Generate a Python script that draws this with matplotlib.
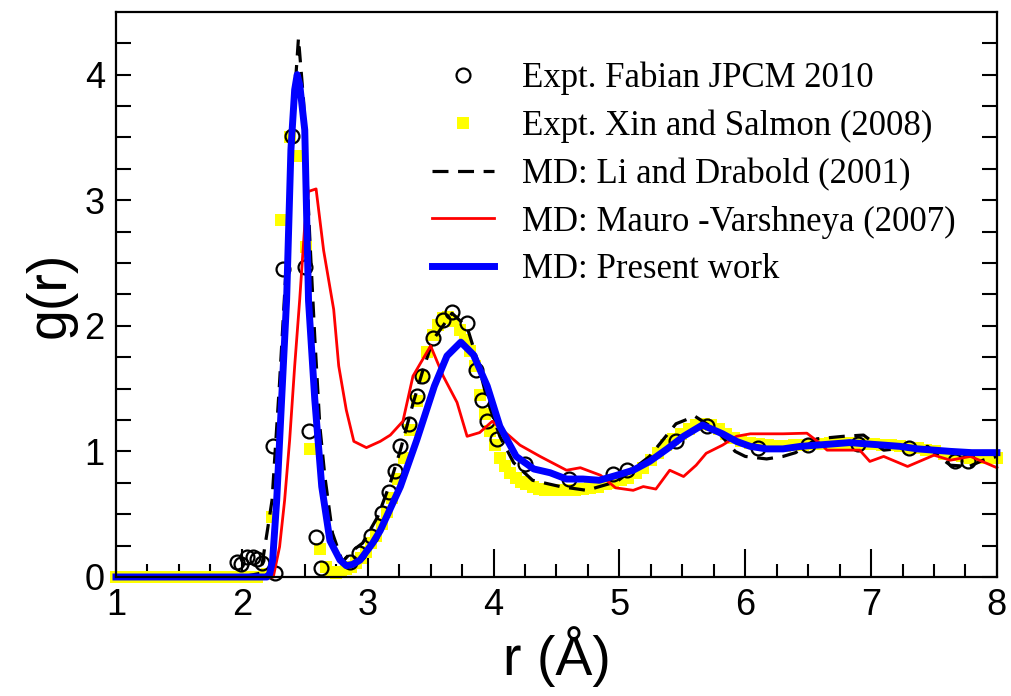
import matplotlib
matplotlib.use("Agg")
import matplotlib.pyplot as plt

# MD: Present work
blue_r = [1.00, 2.00, 2.20, 2.22, 2.245, 2.277, 2.316, 2.356, 2.39, 2.42, 2.44, 2.46, 2.50, 2.53,
          2.58, 2.635, 2.70, 2.78, 2.83, 2.88, 2.94, 3.04, 3.10, 3.26, 3.39, 3.53, 3.63, 3.74,
          3.84, 3.95, 4.05, 4.18, 4.32, 4.45, 4.58, 4.71, 4.84, 4.98, 5.11, 5.24, 5.38, 5.51,
          5.66, 5.82, 5.93, 6.04, 6.17, 6.30, 6.44, 6.57, 6.70, 6.83, 6.96, 7.10, 7.23, 7.37,
          7.50, 7.63, 7.80, 8.00]
blue_g = [0.0, 0.0, 0.0, 0.02, 0.135, 0.61, 1.41, 2.21, 3.40, 3.88, 4.00, 3.92, 3.56, 2.20,
          1.41, 0.72, 0.29, 0.135, 0.09, 0.10, 0.135, 0.27, 0.37, 0.72, 1.09, 1.52, 1.76, 1.87,
          1.77, 1.52, 1.20, 0.96, 0.86, 0.83, 0.78, 0.78, 0.77, 0.81, 0.85, 0.92, 1.02, 1.12,
          1.21, 1.14, 1.08, 1.04, 1.02, 1.02, 1.04, 1.05, 1.06, 1.07, 1.06, 1.05, 1.04, 1.02,
          1.01, 1.00, 0.99, 0.99]

# MD: Li and Drabold (2001)
li_r = [1.00, 2.00, 2.15, 2.20, 2.24, 2.30, 2.36, 2.41, 2.45, 2.49, 2.54, 2.58, 2.62, 2.66,
        2.72, 2.80, 2.88, 2.96, 3.08, 3.18, 3.26, 3.36, 3.44, 3.52, 3.67, 3.79, 3.87, 3.95,
        4.05, 4.16, 4.31, 4.53, 4.74, 4.98, 5.24, 5.45, 5.60, 5.77, 5.92, 6.00, 6.17, 6.30,
        6.40, 6.57, 6.78, 6.94, 7.10, 7.30, 7.45, 7.55, 7.63, 7.78, 7.89, 8.00]
li_g = [0.0, 0.0, 0.03, 0.35, 0.61, 1.55, 2.60, 3.70, 4.29, 3.80, 2.70, 1.90, 1.20, 0.80,
        0.35, 0.12, 0.21, 0.27, 0.48, 0.75, 1.01, 1.38, 1.65, 1.89, 2.10, 1.99, 1.73, 1.41,
        1.12, 0.91, 0.77, 0.72, 0.69, 0.76, 0.96, 1.22, 1.28, 1.17, 1.00, 0.96, 0.94, 0.96,
        0.99, 1.10, 1.12, 1.13, 1.01, 1.03, 1.04, 0.95, 0.89, 0.88, 0.93, 0.96]

# MD: Mauro -Varshneya (2007)
mv_r = [1.00, 2.00, 2.25, 2.30, 2.34, 2.38, 2.42, 2.46, 2.50, 2.53, 2.59, 2.65, 2.73, 2.77,
        2.83, 2.89, 2.99, 3.10, 3.18, 3.28, 3.36, 3.50, 3.60, 3.71, 3.79, 3.89, 3.99, 4.13,
        4.21, 4.37, 4.58, 4.69, 4.85, 4.97, 5.11, 5.19, 5.29, 5.40, 5.51, 5.61, 5.69, 5.82,
        5.93, 6.04, 6.17, 6.30, 6.49, 6.60, 6.65, 6.83, 6.91, 6.99, 7.10, 7.29, 7.50, 7.63,
        7.79, 8.00]
mv_g = [0.0, 0.0, 0.0, 0.24, 0.61, 1.09, 1.68, 2.21, 2.80, 3.07, 3.09, 2.60, 2.13, 1.68,
        1.33, 1.08, 1.03, 1.08, 1.13, 1.24, 1.60, 1.84, 1.60, 1.39, 1.12, 1.15, 1.24, 1.12,
        1.05, 0.96, 0.85, 0.87, 0.81, 0.71, 0.69, 0.72, 0.70, 0.85, 0.80, 0.89, 0.985, 1.05,
        1.12, 1.14, 1.14, 1.14, 1.145, 1.06, 1.01, 1.01, 1.01, 0.92, 0.96, 0.88, 0.97, 0.93,
        0.96, 0.87]

# Expt. Fabian JPCM 2010
fab_r = [1.96, 1.99, 2.04, 2.09, 2.12, 2.16, 2.25, 2.26, 2.33, 2.40, 2.50, 2.53, 2.59, 2.63,
         2.86, 2.93, 3.03, 3.11, 3.17, 3.22, 3.26, 3.33, 3.39, 3.43, 3.52, 3.60, 3.67, 3.79,
         3.86, 3.91, 3.95, 4.03, 4.25, 4.60, 4.95, 5.06, 5.45, 5.70, 6.10, 6.50, 6.90, 7.30,
         7.67, 7.77]
fab_g = [0.12, 0.10, 0.16, 0.16, 0.14, 0.11, 1.04, 0.03, 2.45, 3.51, 2.47, 1.16, 0.32, 0.07,
         0.12, 0.19, 0.33, 0.51, 0.68, 0.84, 1.04, 1.22, 1.44, 1.60, 1.90, 2.05, 2.11, 2.02,
         1.65, 1.41, 1.24, 1.10, 0.90, 0.78, 0.82, 0.85, 1.08, 1.20, 1.03, 1.05, 1.06, 1.03,
         0.92, 0.92]

# Expt. Xin and Salmon (2008)
xin_r = [1.00, 1.08, 1.16, 1.24, 1.32, 1.40, 1.48, 1.56, 1.64, 1.72, 1.80, 1.88, 1.96, 2.04,
         2.12, 2.20, 2.24, 2.31, 2.38, 2.43, 2.51, 2.545, 2.62, 2.67, 2.71, 2.75, 2.79, 2.83,
         2.87, 2.91, 2.95, 2.99, 3.03, 3.07, 3.11, 3.15, 3.19, 3.24, 3.29, 3.34, 3.39, 3.43,
         3.47, 3.52, 3.56, 3.60, 3.64, 3.68, 3.73, 3.77, 3.81, 3.85, 3.89, 3.93, 3.97, 4.01,
         4.05, 4.09, 4.13, 4.18, 4.22, 4.26, 4.31, 4.36, 4.41, 4.47, 4.53, 4.59, 4.65, 4.71,
         4.77, 4.83, 4.89, 4.95, 5.01, 5.07, 5.13, 5.19, 5.25, 5.31, 5.37, 5.43, 5.49, 5.55,
         5.61, 5.67, 5.73, 5.79, 5.85, 5.91, 5.97, 6.04, 6.11, 6.18, 6.25, 6.32, 6.39, 6.46,
         6.53, 6.60, 6.67, 6.74, 6.81, 6.88, 6.95, 7.02, 7.09, 7.16, 7.23, 7.30, 7.37, 7.44,
         7.51, 7.58, 7.65, 7.72, 7.79, 7.86, 7.93, 8.00]
xin_g = [0.0, 0.0, 0.0, 0.0, 0.0, 0.0, 0.0, 0.0, 0.0, 0.0, 0.0, 0.0, 0.0, 0.0,
         0.0, 0.02, 0.48, 2.84, 3.50, 3.35, 2.63, 1.02, 0.22, 0.08, 0.04, 0.03, 0.04, 0.06,
         0.08, 0.11, 0.15, 0.20, 0.27, 0.33, 0.42, 0.52, 0.63, 0.78, 0.95, 1.17, 1.40, 1.60,
         1.79, 1.93, 2.01, 2.06, 2.07, 2.04, 1.97, 1.89, 1.80, 1.68, 1.45, 1.30, 1.16, 1.05,
         0.95, 0.88, 0.83, 0.79, 0.76, 0.74, 0.72, 0.70, 0.69, 0.69, 0.69, 0.69, 0.69, 0.70,
         0.71, 0.72, 0.74, 0.75, 0.77, 0.79, 0.83, 0.87, 0.93, 0.99, 1.05, 1.10, 1.14, 1.18,
         1.21, 1.22, 1.21, 1.18, 1.14, 1.11, 1.08, 1.07, 1.06, 1.05, 1.04, 1.04, 1.05, 1.05,
         1.06, 1.06, 1.07, 1.07, 1.07, 1.07, 1.06, 1.06, 1.05, 1.05, 1.04, 1.03, 1.03, 1.01,
         1.00, 0.98, 0.97, 0.96, 0.95, 0.95, 0.95, 0.95]

sans = ['Liberation Sans Narrow', 'Liberation Sans', 'DejaVu Sans']

fig = plt.figure(figsize=(10.12, 6.96), dpi=100)
ax = fig.add_axes([0.1146, 0.171, 0.8705, 0.812])

ax.plot(xin_r, xin_g, 's', color='#ffff00', markersize=9, markeredgewidth=0,
        label='Expt. Xin and Salmon (2008)', zorder=2, clip_on=False)
ax.plot(fab_r, fab_g, 'o', markerfacecolor='none', markeredgecolor='black',
        markersize=10, markeredgewidth=1.6, label='Expt. Fabian JPCM 2010', zorder=3,
        clip_on=False)
ax.plot(li_r, li_g, color='black', lw=2.3, linestyle=(0, (5, 3)),
        label='MD: Li and Drabold (2001)', zorder=4, clip_on=False)
ax.plot(mv_r, mv_g, color='#ff0000', lw=2.0, label='MD: Mauro -Varshneya (2007)', zorder=5,
        clip_on=False)
ax.plot(blue_r, blue_g, color='#0000ff', lw=5, label='MD: Present work', zorder=6,
        clip_on=False)

ax.set_xlim(1, 8)
ax.set_ylim(0, 4.5)
ax.set_xticks([1, 2, 3, 4, 5, 6, 7, 8])
ax.set_xticks([1.25, 1.5, 1.75, 2.25, 2.5, 2.75, 3.25, 3.5, 3.75, 4.25, 4.5, 4.75,
               5.25, 5.5, 5.75, 6.25, 6.5, 6.75, 7.25, 7.5, 7.75], minor=True)
ax.set_yticks([0, 1, 2, 3, 4])
ax.set_yticks([0.25, 0.5, 0.75, 1.25, 1.5, 1.75, 2.25, 2.5, 2.75, 3.25, 3.5, 3.75, 4.25],
              minor=True)

ax.tick_params(axis='x', which='major', direction='in', length=20, width=1.5, pad=8,
               top=False, labelsize=26)
ax.tick_params(axis='x', which='minor', direction='in', length=9.5, width=1.5, top=False)
ax.tick_params(axis='y', which='both', direction='in', length=11, width=1.5, right=True,
               pad=8, labelsize=26)
for lab in ax.get_xticklabels() + ax.get_yticklabels():
    lab.set_family(sans)
for sp in ax.spines.values():
    sp.set_linewidth(1.6)
    sp.set_zorder(7)

ax.set_xlabel('r (Å)', family=sans, fontsize=40, labelpad=2)
ax.set_ylabel('g(r)', family=sans, fontsize=40, labelpad=6)

handles, labels = ax.get_legend_handles_labels()
order = [1, 0, 2, 3, 4]
ax.legend([handles[i] for i in order], [labels[i] for i in order],
          loc='upper left', bbox_to_anchor=(0.3587, 0.912), frameon=False,
          prop={'family': 'Liberation Serif', 'size': 25}, numpoints=1,
          handlelength=1.8, handletextpad=0.8, labelspacing=0.42,
          borderpad=0, borderaxespad=0)

fig.savefig('out.png', dpi=100)
